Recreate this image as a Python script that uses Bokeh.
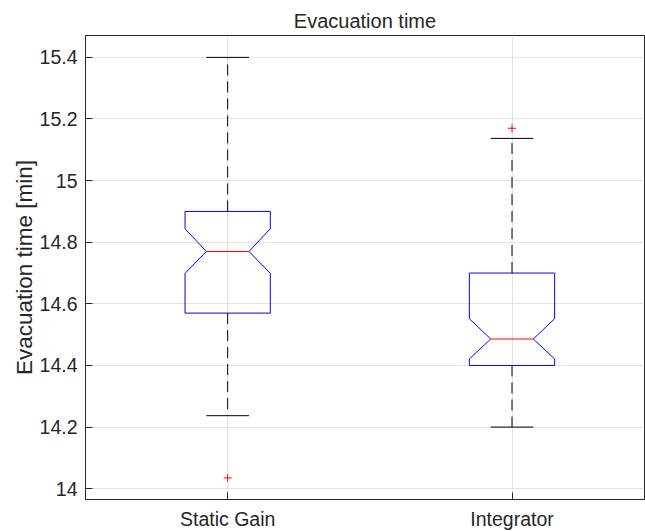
from bokeh.plotting import figure
from bokeh.models import FixedTicker, Range1d
from bokeh.embed import file_html
from bokeh.resources import INLINE

# ---- data ----
categories = ["Static Gain", "Integrator"]
positions = [1, 2]
q1 = [14.57, 14.40]
median = [14.77, 14.486]
q3 = [14.90, 14.70]
notch_lo = [14.699, 14.421]
notch_hi = [14.844, 14.552]
whisker_lo = [14.237, 14.20]
whisker_hi = [15.40, 15.137]
outlier_pos = [1, 2]
outlier_val = [14.035, 15.17]
y_ticks = [14.0, 14.2, 14.4, 14.6, 14.8, 15.0, 15.2, 15.4]
y_tick_labels = ["14", "14.2", "14.4", "14.6", "14.8", "15", "15.2", "15.4"]

BOX_W = 0.15
NOTCH_W = 0.075
TXT = "#262626"
FONT = "Liberation Sans"

p = figure(output_backend="svg", toolbar_location=None,
           frame_width=559, frame_height=464,
           x_range=Range1d(0.5, 2.466), y_range=Range1d(13.965, 15.471),
           min_border_left=85, min_border_right=1, min_border_top=35,
           min_border_bottom=32, title="Evacuation time")

p.title.align = "center"
p.title.text_font = FONT
p.title.text_font_size = "20px"
p.title.text_font_style = "normal"
p.title.text_color = TXT
p.title.standoff = 7

# boxes (notched polygons)
xs, ys = [], []
for x, a, nl, m, nh, b in zip(positions, q1, notch_lo, median, notch_hi, q3):
    xs.append([x - BOX_W, x - BOX_W, x - NOTCH_W, x - BOX_W, x - BOX_W,
               x + BOX_W, x + BOX_W, x + NOTCH_W, x + BOX_W, x + BOX_W, x - BOX_W])
    ys.append([a, nl, m, nh, b, b, nh, m, nl, a, a])
p.multi_line(xs, ys, line_color="#0000ff", line_width=1)

# medians
p.segment(x0=[x - NOTCH_W for x in positions], x1=[x + NOTCH_W for x in positions],
          y0=median, y1=median, line_color="#ff0000", line_width=1.2)

# whiskers
p.segment(x0=positions, x1=positions, y0=q3, y1=whisker_hi,
          line_color="black", line_width=1, line_dash="11 6")
p.segment(x0=positions, x1=positions, y0=q1, y1=whisker_lo,
          line_color="black", line_width=1, line_dash="11 6")
# caps
for w in (whisker_hi, whisker_lo):
    p.segment(x0=[x - NOTCH_W for x in positions], x1=[x + NOTCH_W for x in positions],
              y0=w, y1=w, line_color="black", line_width=1)

# outliers
p.scatter(outlier_pos, outlier_val, marker="cross", size=8,
          line_color="#ff0000", line_width=1)

# axes
p.xaxis.ticker = FixedTicker(ticks=positions)
p.xaxis.major_label_overrides = {pp: c for pp, c in zip(positions, categories)}
p.yaxis.ticker = FixedTicker(ticks=y_ticks)
p.yaxis.major_label_overrides = {t: l for t, l in zip(y_ticks, y_tick_labels)}
p.yaxis.axis_label = "Evacuation time [min]"
p.yaxis.axis_label_text_font = FONT
p.yaxis.axis_label_text_font_size = "22.5px"
p.yaxis.axis_label_text_font_style = "normal"
p.yaxis.axis_label_text_color = TXT
p.yaxis.axis_label_standoff = 0

for ax in (p.xaxis, p.yaxis):
    ax.major_label_text_font = FONT
    ax.major_label_text_font_size = "19.5px"
    ax.major_label_text_color = TXT
    ax.major_tick_in = 7
    ax.major_tick_out = 0
    ax.minor_tick_in = 0
    ax.minor_tick_out = 0
    ax.axis_line_color = TXT
    ax.major_tick_line_color = TXT
    ax.major_label_standoff = 8

p.xgrid.grid_line_color = "#e3e3e3"
p.ygrid.grid_line_color = "#e3e3e3"
p.outline_line_color = TXT
p.outline_line_alpha = 1
p.background_fill_color = "white"

open("out.html", "w").write(file_html(p, INLINE))
